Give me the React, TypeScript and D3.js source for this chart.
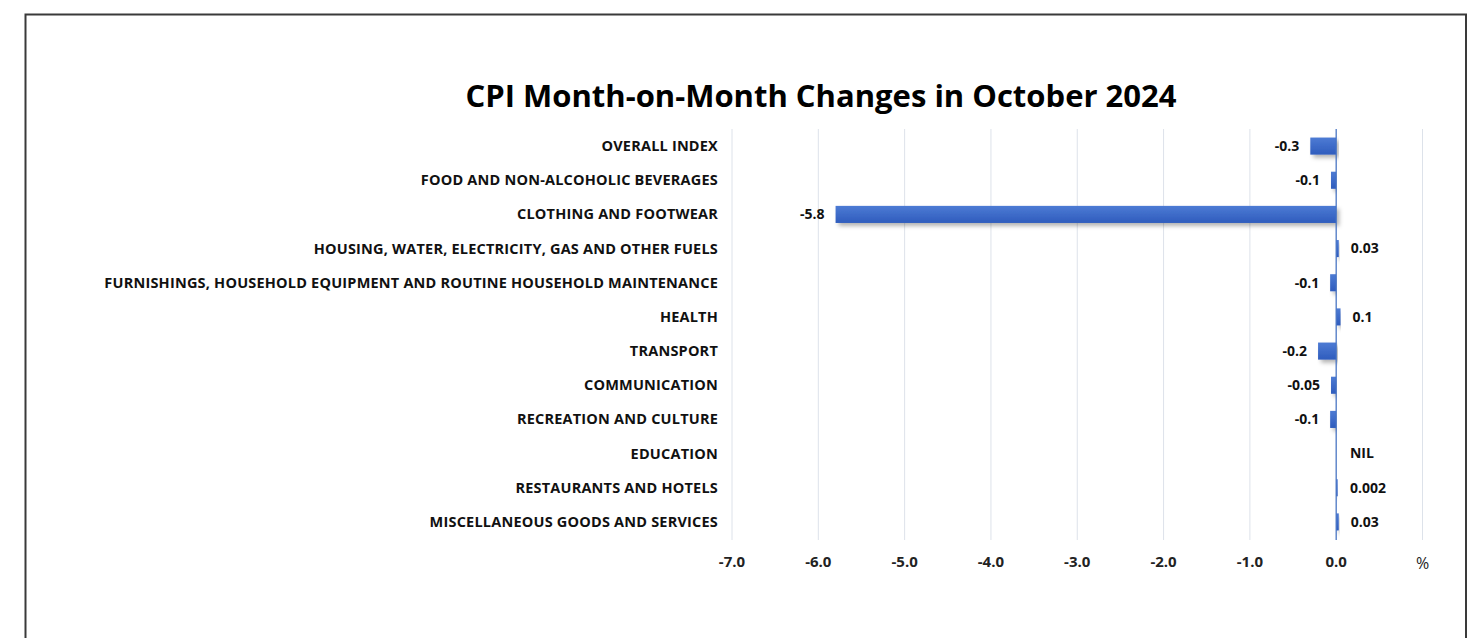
import * as d3 from "d3";

// CPI month-on-month % changes, October 2024
const categories = [
  "OVERALL INDEX",
  "FOOD AND NON-ALCOHOLIC BEVERAGES",
  "CLOTHING AND FOOTWEAR",
  "HOUSING, WATER, ELECTRICITY, GAS AND OTHER FUELS",
  "FURNISHINGS, HOUSEHOLD EQUIPMENT AND ROUTINE HOUSEHOLD MAINTENANCE",
  "HEALTH",
  "TRANSPORT",
  "COMMUNICATION",
  "RECREATION AND CULTURE",
  "EDUCATION",
  "RESTAURANTS AND HOTELS",
  "MISCELLANEOUS GOODS AND SERVICES",
];
// bar lengths as drawn (labels below are the rounded published figures)
const values = [-0.3, -0.06, -5.8, 0.03, -0.07, 0.05, -0.21, -0.06, -0.07, 0, 0.002, 0.03];
const valueLabels = ["-0.3", "-0.1", "-5.8", "0.03", "-0.1", "0.1", "-0.2", "-0.05", "-0.1", "NIL", "0.002", "0.03"];
const ticks = [-7, -6, -5, -4, -3, -2, -1, 0];

const W = 1468;
const H = 638;
const FONT = "'Open Sans', 'Noto Sans', sans-serif";

// keep the plain hyphen the original uses instead of d3's unicode minus
const fmtTick = (t: number) => d3.format(".1f")(t).replace("\u2212", "-");

export default function App() {
  const x = d3.scaleLinear().domain([-7, 1]).range([732, 1422.5]);
  const y = d3.scaleBand().domain(categories).range([129, 539]).paddingInner(0.5).paddingOuter(0.25);
  const top = 129;
  const bottom = 540;

  return (
    <svg
      width={W}
      height={H}
      style={{ position: "absolute", left: 0, top: 0, background: "#fff" }}
    >
      <defs>
        <linearGradient id="barGrad" x1="0" y1="0" x2="0" y2="1">
          <stop offset="0%" stopColor="#4d7bd4" />
          <stop offset="100%" stopColor="#2f5cbd" />
        </linearGradient>
        <filter id="shadow" x="-5%" y="-50%" width="115%" height="220%">
          <feDropShadow dx="3" dy="3" stdDeviation="2" floodColor="#000" floodOpacity="0.3" />
        </filter>
      </defs>

      {/* outer frame */}
      <path d={`M25.5,${H + 5} V14.5 H1466 V${H + 5}`} fill="none" stroke="#3a3a3a" strokeWidth={2} />

      <text
        x={821}
        y={107}
        textAnchor="middle"
        fontFamily={FONT}
        fontWeight={700}
        fontSize={31}
        fill="#000"
      >
        CPI Month-on-Month Changes in October 2024
      </text>

      {/* gridlines */}
      {[...ticks, 1].map((t) => (
        <line key={t} x1={x(t)} x2={x(t)} y1={top} y2={bottom} stroke="#dde2ea" strokeWidth={1} />
      ))}

      {/* bars */}
      {categories.map((c, i) => {
        const v = values[i];
        const x0 = x(Math.min(0, v));
        const w = Math.abs(x(v) - x(0));
        return (
          <rect
            key={c}
            x={x0}
            y={y(c)!}
            width={Math.max(w, v === 0 ? 0 : 1.5)}
            height={y.bandwidth()}
            fill="url(#barGrad)"
            filter="url(#shadow)"
          />
        );
      })}

      {/* zero axis line */}
      <line x1={x(0)} x2={x(0)} y1={top} y2={bottom} stroke="#4472c4" strokeWidth={1.2} />

      {/* category labels */}
      {categories.map((c) => (
        <text
          key={c}
          x={718}
          y={y(c)! + y.bandwidth() / 2}
          dy="0.35em"
          textAnchor="end"
          fontFamily={FONT}
          fontWeight={700}
          fontSize={14.5}
          letterSpacing={0.2}
          fill="#111"
        >
          {c}
        </text>
      ))}

      {/* value labels */}
      {categories.map((c, i) => {
        const v = values[i];
        const neg = v < 0;
        return (
          <text
            key={c}
            x={neg ? x(v) - 11 : x(Math.max(v, 0.02)) + 12}
            y={y(c)! + y.bandwidth() / 2}
            dy="0.35em"
            textAnchor={neg ? "end" : "start"}
            fontFamily={FONT}
            fontWeight={700}
            fontSize={14}
            fill="#111"
          >
            {valueLabels[i]}
          </text>
        );
      })}

      {/* x tick labels */}
      {ticks.map((t) => (
        <text
          key={t}
          x={x(t)}
          y={567}
          textAnchor="middle"
          fontFamily={FONT}
          fontWeight={700}
          fontSize={15}
          fill="#222"
        >
          {fmtTick(t)}
        </text>
      ))}
      <text x={x(1)} y={569} textAnchor="middle" fontFamily={FONT} fontSize={16} fill="#222">
        %
      </text>
    </svg>
  );
}
